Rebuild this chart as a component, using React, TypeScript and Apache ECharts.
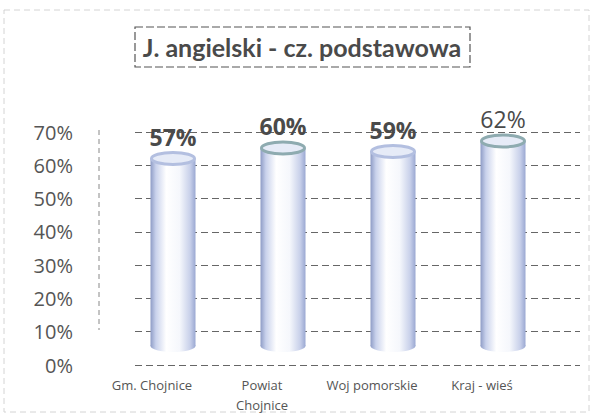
import React, { useEffect, useRef } from 'react';
import * as echarts from 'echarts';

const categories = ['Gm. Chojnice', 'Powiat\nChojnice', 'Woj pomorskie', 'Kraj - wieś'];
const values = [57, 60, 59, 62];
const yTicks = [0, 10, 20, 30, 40, 50, 60, 70];
const titleText = 'J. angielski - cz. podstawowa';

const capColors = ['#b3bfe0', '#8eabb0', '#b3bfe0', '#8eabb0'];
const labelWeights = ['bold', 'bold', 'bold', 'normal'];

export default function App() {
  const ref = useRef<HTMLDivElement>(null);
  useEffect(() => {
    const chart = echarts.init(ref.current!, null, { renderer: 'svg' });
    const yMax = yTicks[yTicks.length - 1];
    const bodyGrad = new echarts.graphic.LinearGradient(0, 0, 1, 0, [
      { offset: 0, color: '#8e9cc6' },
      { offset: 0.12, color: '#c9d2ec' },
      { offset: 0.35, color: '#ffffff' },
      { offset: 0.65, color: '#f5f7fc' },
      { offset: 0.88, color: '#c8d0ea' },
      { offset: 1, color: '#9aa8d2' },
    ]);
    const option: any = {
      animation: false,
      backgroundColor: '#ffffff',
      title: {
        text: titleText,
        left: 302,
        textAlign: 'center',
        top: 34,
        padding: 0,
        textStyle: { fontFamily: 'Lato', fontSize: 25, fontWeight: 'bold', color: '#4a4a4a' },
      },
      graphic: [
        {
          type: 'rect',
          shape: { x: 4, y: 10, width: 585, height: 402 },
          style: { fill: 'none', stroke: '#d4d4d4', lineWidth: 1, lineDash: [6, 4] },
          silent: true,
        },
        {
          type: 'rect',
          shape: { x: 135, y: 27, width: 335, height: 40 },
          style: { fill: 'none', stroke: '#555', lineWidth: 1.2, lineDash: [8, 3] },
          silent: true,
        },
        {
          type: 'line',
          shape: { x1: 99, y1: 130, x2: 99, y2: 330 },
          style: { stroke: '#888', lineWidth: 1, lineDash: [5, 4] },
          silent: true,
        },
      ],
      grid: [
        { left: 135, right: 14, top: 132, bottom: 51 },
        { left: 118, right: 36, top: 107, bottom: 64 },
        { left: 97, right: 57, top: 132, bottom: 51 },
      ],
      xAxis: [
        { gridIndex: 0, type: 'category', data: categories, show: false },
        { gridIndex: 1, type: 'category', data: categories, show: false },
        {
          gridIndex: 2,
          type: 'category',
          data: categories,
          axisLine: { show: false },
          axisTick: { show: false },
          axisLabel: {
            interval: 0,
            margin: 10,
            fontFamily: 'Open Sans',
            fontSize: 13,
            lineHeight: 20,
            color: '#555',
          },
        },
      ],
      yAxis: [
        {
          gridIndex: 0,
          type: 'value',
          min: 0,
          max: yMax,
          interval: 10,
          axisLine: { show: false },
          axisTick: { show: false },
          splitLine: { lineStyle: { color: '#666', type: [7, 4], width: 1 } },
          axisLabel: {
            formatter: '{value}%',
            margin: 62,
            fontFamily: 'Open Sans',
            fontSize: 20,
            color: '#555',
          },
        },
        { gridIndex: 1, type: 'value', min: 0, max: yMax, show: false },
        { gridIndex: 2, type: 'value', min: 0, max: yMax, show: false },
      ],
      series: [
        {
          type: 'custom',
          xAxisIndex: 1,
          yAxisIndex: 1,
          data: values.map((v, i) => [i, v]),
          renderItem: (params: any, api: any) => {
            const idx = api.value(0);
            const v = api.value(1);
            const top = api.coord([idx, v]);
            const base = api.coord([idx, 0]);
            const w = 45;
            const ry = 6;
            const cx = top[0];
            const capY = top[1] + ry;
            return {
              type: 'group',
              children: [
                {
                  type: 'ellipse',
                  shape: { cx, cy: base[1] - ry, rx: w / 2, ry },
                  style: { fill: bodyGrad },
                },
                {
                  type: 'rect',
                  shape: { x: cx - w / 2, y: capY, width: w, height: base[1] - ry - capY },
                  style: { fill: bodyGrad },
                },
                {
                  type: 'ellipse',
                  shape: { cx, cy: capY, rx: w / 2 - 1, ry },
                  style: { fill: '#e6ebf7', stroke: capColors[params.dataIndex], lineWidth: 3 },
                },
                {
                  type: 'text',
                  style: {
                    text: v + '%',
                    x: cx,
                    y: top[1] - 16,
                    align: 'center',
                    verticalAlign: 'middle',
                    fontFamily: 'Open Sans',
                    fontSize: 23,
                    fontWeight: labelWeights[params.dataIndex],
                    fill: '#4a4a4a',
                  },
                },
              ],
            };
          },
        },
      ],
    };
    chart.setOption(option);
    return () => chart.dispose();
  }, []);
  return <div ref={ref} style={{ position: 'fixed', left: 0, top: 0, width: 594, height: 416 }} />;
}
